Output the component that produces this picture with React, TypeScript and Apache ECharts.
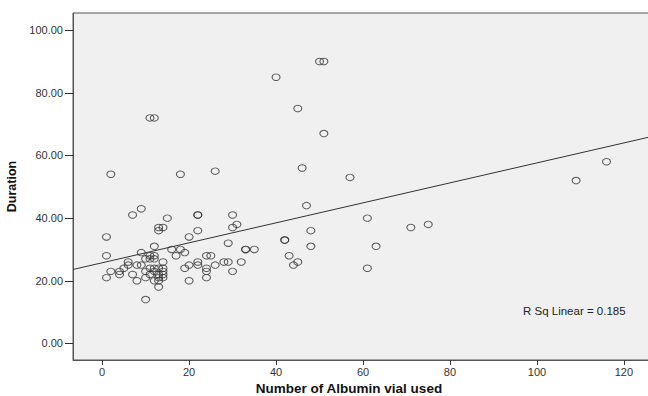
import React, { useEffect, useRef } from "react";
import * as echarts from "echarts";

// Number of Albumin vial used
const vials: number[] = [
  50, 51, 40, 45, 11, 12, 51, 46, 26, 2, 18, 57, 109, 116, 47, 61, 75, 71, 48, 42, 42, 48, 63, 43, 45, 44, 61,
  30, 31, 30, 29, 33, 33, 35, 28, 29, 32, 26, 30, 24, 25, 24, 24, 24, 22, 22, 22, 22, 22,
  1, 1, 1, 2, 4, 4, 5, 6, 6, 7, 7, 9, 8, 8, 9, 9, 10, 10, 10, 10, 11, 12, 11, 12, 12, 11, 12, 11, 12, 12,
  13, 13, 13, 14, 15, 14, 14, 14, 14, 14, 13, 13, 13, 13, 16, 17, 18, 19, 19, 20, 20, 20,
];
// Duration
const durations: number[] = [
  90, 90, 85, 75, 72, 72, 67, 56, 55, 54, 54, 53, 52, 58, 44, 40, 38, 37, 36, 33, 33, 31, 31, 28, 26, 25, 24,
  41, 38, 37, 32, 30, 30, 30, 26, 26, 26, 25, 23, 28, 28, 24, 23, 21, 41, 41, 36, 26, 25,
  34, 28, 21, 23, 23, 22, 24, 26, 25, 22, 41, 43, 20, 25, 25, 29, 14, 21, 23, 27, 28, 28, 27, 27, 31, 24, 24, 22, 20, 23,
  18, 37, 36, 37, 40, 26, 24, 23, 22, 21, 22, 21, 20, 24, 30, 28, 30, 29, 24, 34, 25, 20,
];

const xTicks: number[] = [0, 20, 40, 60, 80, 100, 120];
const yTicks: number[] = [0, 20, 40, 60, 80, 100];

const xTitle = "Number of Albumin vial used";
const yTitle = "Duration";

// Linear fit
const fitIntercept = 25.74;
const fitSlope = 0.319;
const rSqText = "R Sq Linear = 0.185";

const X_MIN = -6.7;
const X_MAX = 126;
const Y_MIN = -5.3;
const Y_MAX = 105.5;

const FONT = "'Liberation Sans', Arial, sans-serif";

export default function App() {
  const ref = useRef<HTMLDivElement>(null);
  useEffect(() => {
    if (!ref.current) return;
    const chart = echarts.init(ref.current, undefined, { renderer: "svg" });
    const points = vials.map((v, i) => [v, durations[i]]);
    const fitLine = [
      [X_MIN, fitIntercept + fitSlope * X_MIN],
      [X_MAX, fitIntercept + fitSlope * X_MAX],
    ];
    chart.setOption({
      animation: false,
      backgroundColor: "#ffffff",
      grid: {
        left: 73,
        top: 13,
        right: -2,
        bottom: 36,
        outerBoundsMode: "none",
        containLabel: false,
        show: true,
        backgroundColor: "#f0f0f0",
        borderColor: "#555555",
        borderWidth: 1,
      },
      xAxis: {
        type: "value",
        min: X_MIN,
        max: X_MAX,
        splitLine: { show: false },
        axisLine: { show: true, onZero: false, lineStyle: { color: "#555", width: 1 } },
        axisTick: { show: true, length: 5, customValues: xTicks, lineStyle: { color: "#333" } },
        axisLabel: {
          customValues: xTicks,
          margin: 6,
          fontFamily: FONT,
          fontSize: 11,
          color: "#333",
        },
      },
      yAxis: {
        type: "value",
        min: Y_MIN,
        max: Y_MAX,
        name: yTitle,
        nameLocation: "middle",
        nameGap: 53,
        nameRotate: 90,
        nameTextStyle: { fontFamily: FONT, fontWeight: "bold", fontSize: 12.5, color: "#111" },
        splitLine: { show: false },
        axisLine: { show: true, onZero: false, lineStyle: { color: "#555", width: 1 } },
        axisTick: { show: true, length: 8, customValues: yTicks, lineStyle: { color: "#333" } },
        axisLabel: {
          customValues: yTicks,
          margin: 10,
          fontFamily: FONT,
          fontSize: 11,
          color: "#333",
          formatter: (v: number) => v.toFixed(2),
        },
      },
      series: [
        {
          type: "scatter",
          data: points,
          symbol: "circle",
          symbolSize: [8, 6.5],
          itemStyle: { color: "rgba(0,0,0,0)", borderColor: "#333", borderWidth: 1 },
          z: 3,
        },
        {
          type: "line",
          data: fitLine,
          symbol: "none",
          lineStyle: { color: "#333", width: 1 },
          z: 2,
        },
      ],
      graphic: [
        {
          type: "text",
          x: 349,
          y: 388,
          style: {
            text: xTitle,
            fontFamily: FONT,
            fontWeight: "bold",
            fontSize: 13.5,
            fill: "#111",
            align: "center",
            verticalAlign: "middle",
          },
        },
        {
          type: "text",
          x: 523,
          y: 311,
          style: {
            text: rSqText,
            fontFamily: FONT,
            fontSize: 11.5,
            fill: "#222",
            align: "left",
            verticalAlign: "middle",
          },
        },
      ],
    });
    return () => chart.dispose();
  }, []);
  return (
    <div
      ref={ref}
      style={{ position: "fixed", left: 0, top: 0, width: 648, height: 396 }}
    />
  );
}
